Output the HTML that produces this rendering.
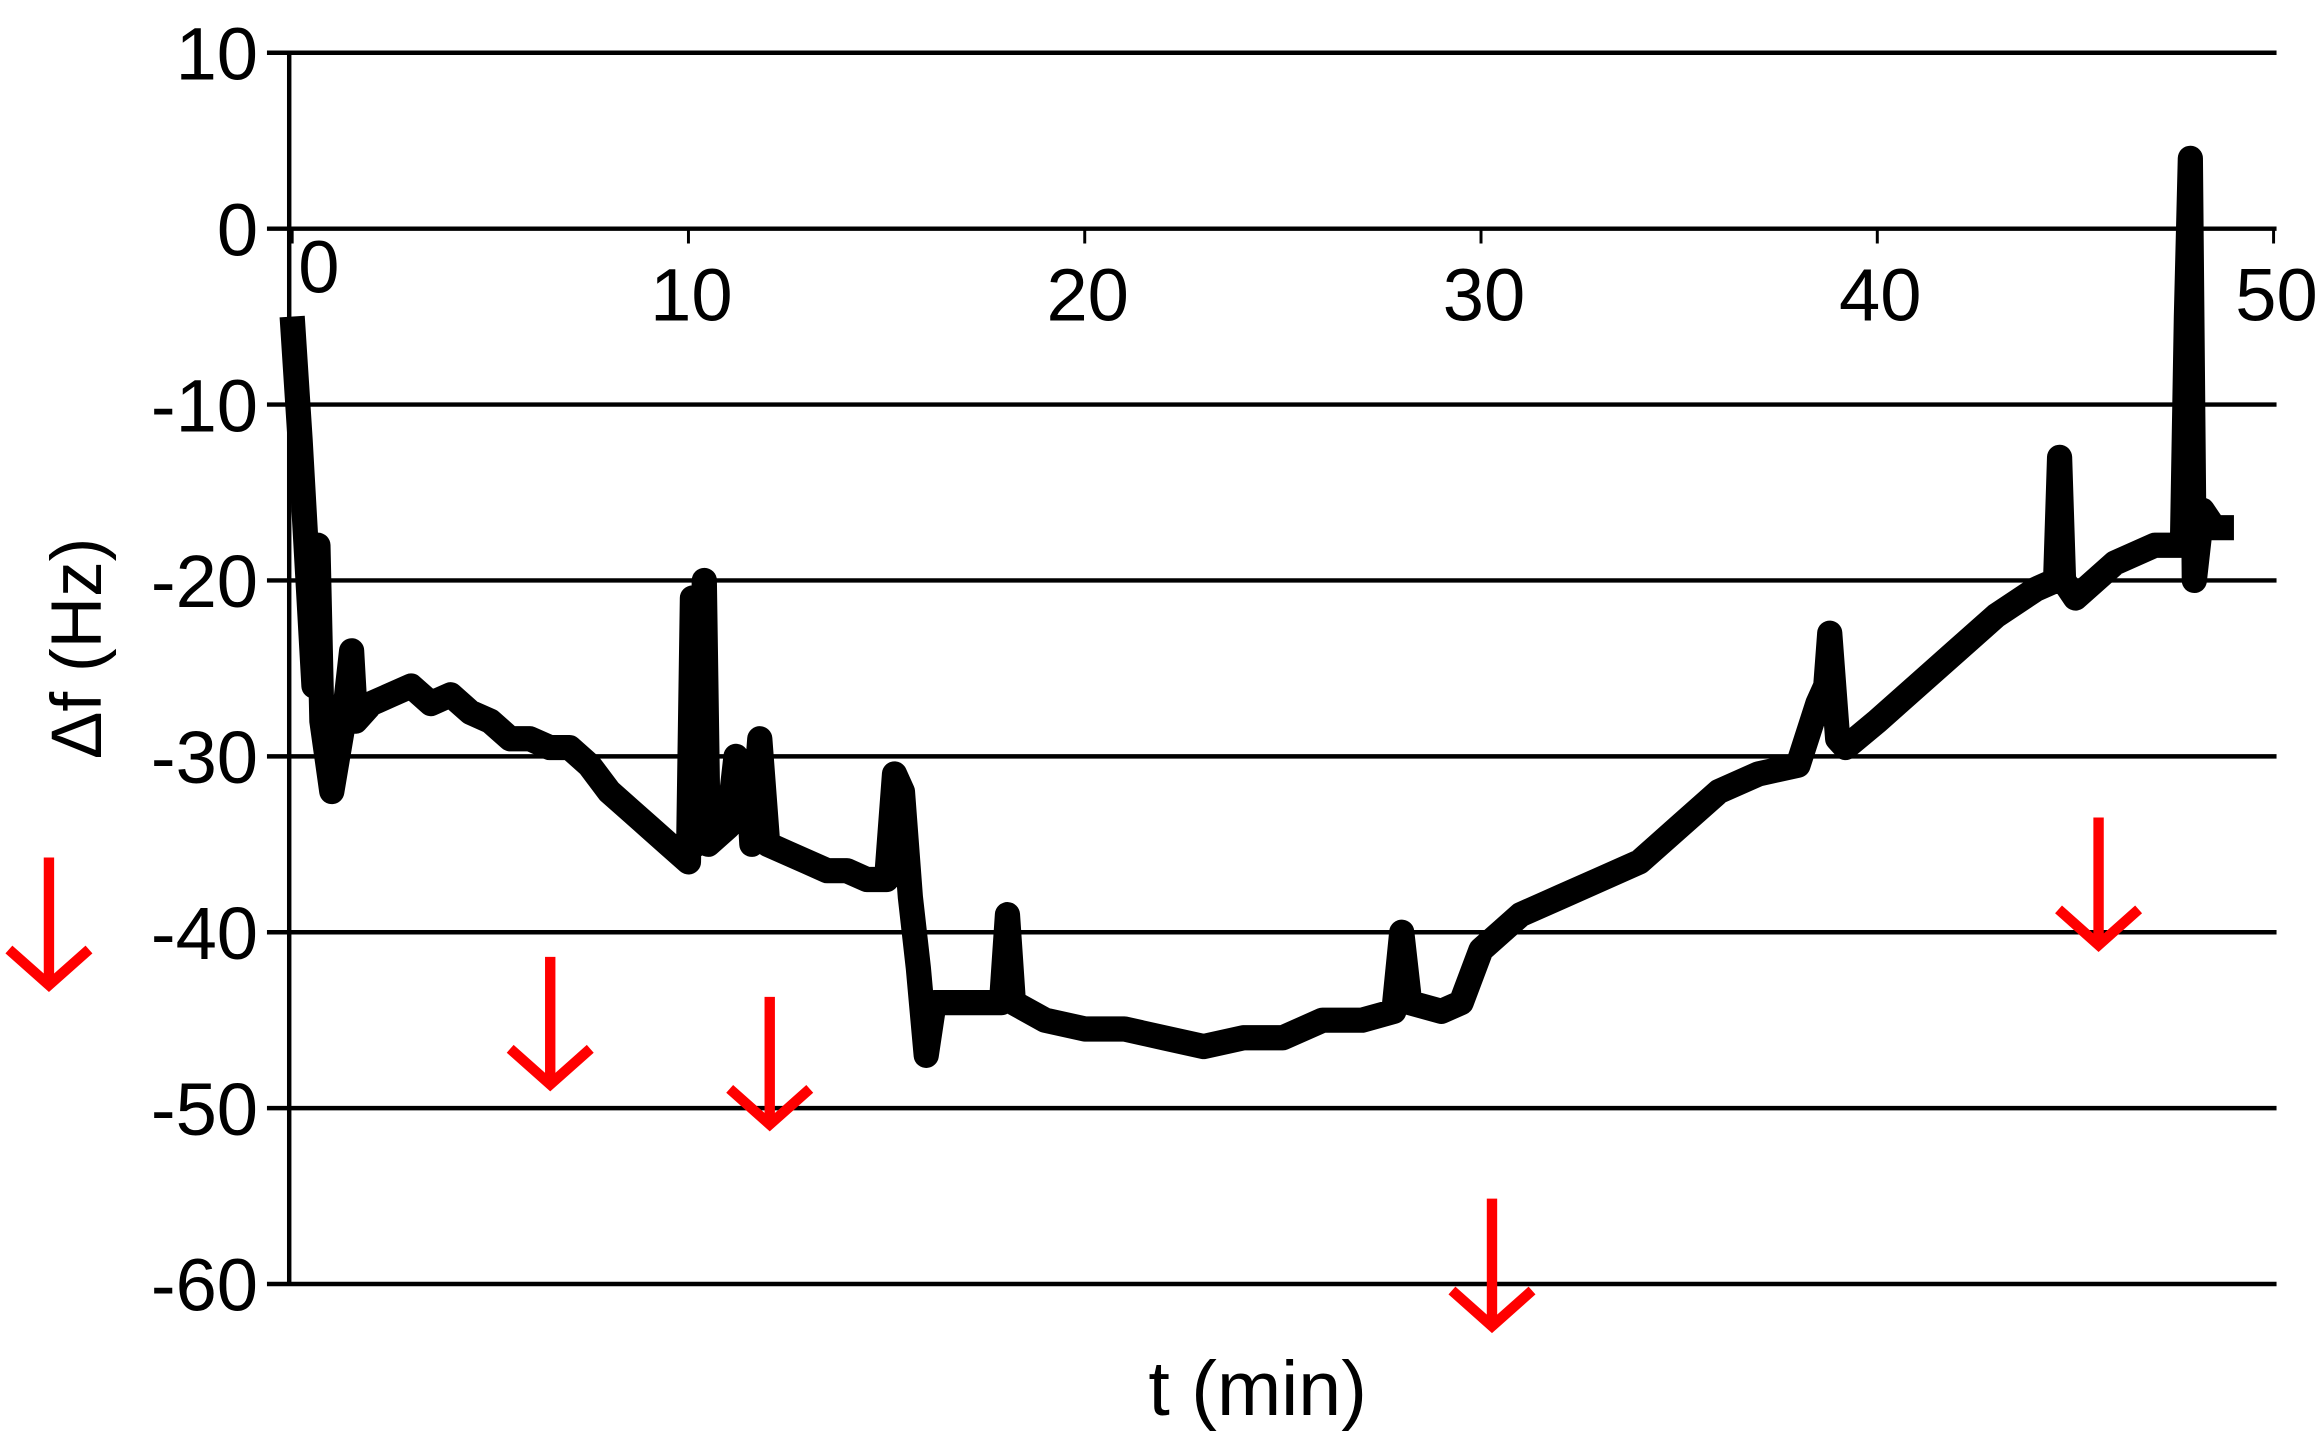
<!DOCTYPE html>
<html><head><meta charset="utf-8"><style>
html,body{margin:0;padding:0;background:#fff}
svg{display:block}
text{font-family:"Liberation Sans",Arial,sans-serif;fill:#000}
</style></head><body>
<svg id="chart" width="2324" height="1451" viewBox="0 0 1567 978" xmlns="http://www.w3.org/2000/svg">
<g id="grid"></g>
<g id="yticks"></g>
<g id="xticks"></g>
<g id="series"></g>
<g id="arrows"></g>
<text x="848" y="954" font-size="52" text-anchor="middle">t (min)</text>
<text transform="translate(68,437) rotate(-90)" font-size="48" text-anchor="middle">Δf (Hz)</text>
</svg>
<script>
const yTicks=[10,0,-10,-20,-30,-40,-50,-60];
const xTicks=[0,10,20,30,40,50];
const tVals=[0,0.2,0.4,0.55,0.65,0.75,1.0,1.3,1.5,1.6,2,2.5,3,3.5,4,4.5,5,5.5,6,6.5,7,7.5,8,8.5,9,9.5,10,10.1,10.2,10.3,10.4,10.5,11,11.2,11.5,11.6,11.8,12,12.5,13,13.5,14,14.5,15,15.2,15.4,15.6,15.8,16,16.2,17,17.9,18.05,18.2,19,20,21,22,23,24,25,26,27,27.8,28.0,28.2,29,29.5,30,30.5,31,32,33,34,35,36,37,38,38.5,38.7,38.8,39,39.2,40,41,42,43,44,44.5,44.6,44.7,45,46,47,47.7,47.8,47.9,48.0,48.2,48.5,49];
const fVals=[-5,-12,-20,-26,-18,-28,-32,-28,-24,-28,-27,-26.5,-26,-27,-26.5,-27.5,-28,-29,-29,-29.5,-29.5,-30.5,-32,-33,-34,-35,-36,-21,-35,-34,-20,-35,-34,-30,-31,-35,-29,-35,-35.5,-36,-36.5,-36.5,-37,-37,-31,-32,-38,-42,-47,-44,-44,-44,-39,-44,-45,-45.5,-45.5,-46,-46.5,-46,-46,-45,-45,-44.5,-40,-44,-44.5,-44,-41,-40,-39,-38,-37,-36,-34,-32,-31,-30.5,-27,-26,-23,-29,-29.5,-28,-26,-24,-22,-20.5,-20,-13,-20,-21,-19,-18,-18,-5,4,-20,-16,-17,-17];
const ns='http://www.w3.org/2000/svg';
const X=t=>197+t*26.72;
const Y=v=>154-v*11.86;
const grid=document.getElementById('grid'),yt=document.getElementById('yticks'),xt=document.getElementById('xticks');
yTicks.forEach(v=>{
 const l=document.createElementNS(ns,'line');
 
 
 l.setAttribute('x1',180);l.setAttribute('x2',1535);l.setAttribute('y1',Y(v));l.setAttribute('y2',Y(v));
 l.setAttribute('stroke','#000');l.setAttribute('stroke-width',3);grid.appendChild(l);
 const t=document.createElementNS(ns,'text');
 
 
 t.setAttribute('x',174);t.setAttribute('y',Y(v)+18);t.setAttribute('font-size',50);t.setAttribute('text-anchor','end');
 t.textContent=v;yt.appendChild(t);
});
const ax=document.createElementNS(ns,'line');


ax.setAttribute('x1',195);ax.setAttribute('x2',195);ax.setAttribute('y1',Y(10));ax.setAttribute('y2',Y(-60));
ax.setAttribute('stroke','#000');ax.setAttribute('stroke-width',3);grid.appendChild(ax);
xTicks.forEach(v=>{
 const tk=document.createElementNS(ns,'line');
 
 
 tk.setAttribute('x1',X(v));tk.setAttribute('x2',X(v));tk.setAttribute('y1',Y(0));tk.setAttribute('y2',Y(0)+10);
 tk.setAttribute('stroke','#000');tk.setAttribute('stroke-width',2);xt.appendChild(tk);
 const t=document.createElementNS(ns,'text');
 
 
 t.setAttribute('x',v===0?X(v)+18:X(v)+2);t.setAttribute('y',v===0?197:216);t.setAttribute('font-size',50);t.setAttribute('text-anchor','middle');
 t.textContent=v;xt.appendChild(t);
});
const p=document.createElementNS(ns,'polyline');


p.setAttribute('points',tVals.map((t,i)=>X(t)+','+Y(fVals[i])).join(' '));
p.setAttribute('fill','none');p.setAttribute('stroke','#000');p.setAttribute('stroke-width',17);p.setAttribute('stroke-linejoin','round');
document.getElementById('series').appendChild(p);
const arrowX=[33,371,519,1006,1415];
const arrowY=[578,645,672,808,551];
const ag=document.getElementById('arrows');
arrowX.forEach((x,i)=>{
 const y=arrowY[i];
 const g=document.createElementNS(ns,'path');
 
 
 g.setAttribute('d',`M${x},${y} V${y+86} M${x-27},${y+62} L${x},${y+86} L${x+27},${y+62}`);
 g.setAttribute('stroke','#f00');g.setAttribute('stroke-width',7);g.setAttribute('fill','none');
 ag.appendChild(g);
});
</script>
</body></html>
